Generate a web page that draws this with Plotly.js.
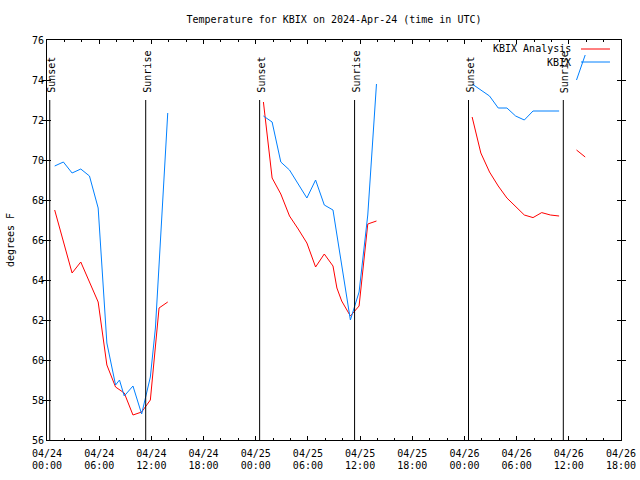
<!DOCTYPE html>
<html>
<head>
<meta charset="utf-8">
<script src="https://cdn.plot.ly/plotly-3.0.1.min.js"></script>
<style>html,body{margin:0;padding:0;background:#fff;}#chart{width:640px;height:480px;}</style>
</head>
<body>
<div id="chart"></div>
<script>
// KBIX Analysis (red) — hourly, null separates the daily segments
const analysisTimes = [
  '2024-04-24 00:53','2024-04-24 01:53','2024-04-24 02:53','2024-04-24 03:53','2024-04-24 04:53',
  '2024-04-24 05:53','2024-04-24 06:53','2024-04-24 07:53','2024-04-24 08:53','2024-04-24 09:53',
  '2024-04-24 10:53','2024-04-24 11:53','2024-04-24 12:53','2024-04-24 13:53',
  '2024-04-24 19:00',
  '2024-04-25 00:53','2024-04-25 01:53','2024-04-25 02:53','2024-04-25 03:53','2024-04-25 04:53',
  '2024-04-25 05:53','2024-04-25 06:53','2024-04-25 07:53','2024-04-25 08:53','2024-04-25 09:20',
  '2024-04-25 09:53','2024-04-25 10:53','2024-04-25 11:53','2024-04-25 12:53','2024-04-25 13:53',
  '2024-04-25 19:00',
  '2024-04-26 00:53','2024-04-26 01:53','2024-04-26 02:53','2024-04-26 03:53','2024-04-26 04:53',
  '2024-04-26 05:53','2024-04-26 06:53','2024-04-26 07:53','2024-04-26 08:53','2024-04-26 09:53',
  '2024-04-26 10:53','2024-04-26 11:53','2024-04-26 12:53','2024-04-26 13:53'
];
const analysisTemps = [
  67.5, 65.9, 64.35, 64.9, 63.9,
  62.9, 59.75, 58.65, 58.35, 57.25,
  57.4, 58.0, 62.6, 62.9,
  null,
  72.9, 69.1, 68.3, 67.2, 66.55,
  65.85, 64.65, 65.3, 64.7, 63.6,
  62.95, 62.2, 62.7, 66.8, 66.95,
  null,
  72.15, 70.35, 69.4, 68.7, 68.1,
  67.65, 67.25, 67.12, 67.37, 67.25,
  67.2, null, 70.5, 70.15
];

// KBIX observations (blue)
const obsTimes = [
  '2024-04-24 00:53','2024-04-24 01:53','2024-04-24 02:53','2024-04-24 03:53','2024-04-24 04:53',
  '2024-04-24 05:53','2024-04-24 06:53','2024-04-24 07:53','2024-04-24 08:20','2024-04-24 08:53',
  '2024-04-24 09:53','2024-04-24 10:53','2024-04-24 11:53','2024-04-24 12:28','2024-04-24 12:53',
  '2024-04-24 13:53',
  '2024-04-24 19:00',
  '2024-04-25 00:53','2024-04-25 01:53','2024-04-25 02:53','2024-04-25 03:53','2024-04-25 04:53',
  '2024-04-25 05:53','2024-04-25 06:53','2024-04-25 07:53','2024-04-25 08:53','2024-04-25 09:53',
  '2024-04-25 10:53','2024-04-25 11:53','2024-04-25 12:53','2024-04-25 13:53',
  '2024-04-25 19:00',
  '2024-04-26 00:53','2024-04-26 01:53','2024-04-26 02:53','2024-04-26 03:53','2024-04-26 04:53',
  '2024-04-26 05:53','2024-04-26 06:53','2024-04-26 07:53','2024-04-26 08:53','2024-04-26 09:53',
  '2024-04-26 10:53','2024-04-26 11:53','2024-04-26 12:53','2024-04-26 13:53'
];
const obsTemps = [
  69.7, 69.9, 69.35, 69.55, 69.2,
  67.6, 60.85, 58.75, 59.0, 58.2,
  58.7, 57.3, 59.15, 61.6, 64.75,
  72.35,
  null,
  72.2, 71.9, 69.9, 69.5, 68.8,
  68.1, 69.0, 67.75, 67.5, 64.8,
  62.0, 63.4, 67.25, 73.8,
  null,
  73.8, 73.5, 73.2, 72.6, 72.6,
  72.2, 72.0, 72.45, 72.45, 72.45,
  72.45, null, 74.0, 75.25
];

const sunsetTimes  = ['2024-04-24 00:19','2024-04-25 00:27','2024-04-26 00:28'];
const sunriseTimes = ['2024-04-24 11:21','2024-04-25 11:22','2024-04-26 11:22'];

const seriesNames = ['KBIX Analysis','KBIX'];
const seriesColors = ['#ff0000','#0080ff'];
const titleText = 'Temperature for KBIX on 2024-Apr-24 (time in UTC)';
const yTitle = 'degrees F';
const xRange = ['2024-04-24 00:00','2024-04-26 18:00'];
const yRange = [56, 76];
const markerTop = 73;

const FONT = 'DejaVu Sans Mono, Liberation Mono, monospace';
const HOUR = 3600 * 1000;

const traces = [
  {x: analysisTimes, y: analysisTemps, type: 'scatter', mode: 'lines', name: seriesNames[0],
   line: {color: seriesColors[0], width: 1}, connectgaps: false, showlegend: false},
  {x: obsTimes, y: obsTemps, type: 'scatter', mode: 'lines', name: seriesNames[1],
   line: {color: seriesColors[1], width: 1}, connectgaps: false, showlegend: false},
  // empty carrier so the second (time-of-day) label row is drawn
  {x: xRange, y: [null, null], xaxis: 'x2', type: 'scatter', mode: 'lines',
   showlegend: false, hoverinfo: 'skip', line: {width: 0}}
];

const shapes = [];
const annotations = [];
function addMarker(t, label) {
  shapes.push({type: 'line', xref: 'x', yref: 'y', x0: t, x1: t, y0: yRange[0], y1: markerTop,
               line: {color: 'black', width: 1}});
  annotations.push({xref: 'x', yref: 'y', x: t, y: markerTop, text: label, textangle: -90,
                    showarrow: false, xanchor: 'center', yanchor: 'bottom', yshift: 5, xshift: 1,
                    font: {family: FONT, size: 10, color: 'black'}});
}
sunsetTimes.forEach(t => addMarker(t, 'Sunset'));
sunriseTimes.forEach(t => addMarker(t, 'Sunrise'));

// gnuplot-style key: text left, sample line right
const keyY = [0.9775, 0.945];
seriesNames.forEach((n, i) => {
  annotations.push({xref: 'paper', yref: 'paper', x: 0.9164, y: keyY[i], text: n, showarrow: false,
                    xanchor: 'right', yanchor: 'middle', font: {family: FONT, size: 10, color: 'black'}});
  shapes.push({type: 'line', xref: 'paper', yref: 'paper', x0: 0.9303, x1: 0.9808, y0: keyY[i], y1: keyY[i],
               line: {color: seriesColors[i], width: 1}});
});

const tickFont = {family: FONT, size: 10, color: 'black'};
const layout = {
  width: 640, height: 480,
  margin: {l: 47, r: 19, t: 40, b: 40, pad: 0},
  paper_bgcolor: 'white', plot_bgcolor: 'white',
  font: {family: FONT, size: 10, color: 'black'},
  title: {text: titleText, font: {family: FONT, size: 10, color: 'black'},
          x: 0.5, xref: 'paper', y: 1 - 19/480, yref: 'container', yanchor: 'middle'},
  xaxis: {type: 'date', range: xRange, tick0: xRange[0], dtick: 6 * HOUR,
          tickformat: '%m/%d', ticks: 'inside', ticklen: 4, tickcolor: 'black',
          ticklabelstandoff: 4,
          minor: {dtick: 2 * HOUR, ticks: 'inside', ticklen: 2, tickcolor: 'black', showgrid: false},
          showline: true, linecolor: 'black', linewidth: 1, mirror: 'allticks',
          showgrid: false, zeroline: false, fixedrange: true, tickfont: tickFont},
  xaxis2: {type: 'date', range: xRange, tick0: xRange[0], dtick: 6 * HOUR, matches: 'x',
           overlaying: 'x', anchor: 'y', side: 'bottom',
           tickformat: '%H:%M', ticks: '', ticklabelstandoff: 18,
           showline: false, showgrid: false, zeroline: false, fixedrange: true, tickfont: tickFont},
  yaxis: {range: yRange, dtick: 2, ticks: 'inside', ticklen: 4, tickcolor: 'black',
          showline: true, linecolor: 'black', linewidth: 1, mirror: 'allticks',
          showgrid: false, zeroline: false, fixedrange: true, tickfont: tickFont,
          title: {text: yTitle, font: {family: FONT, size: 10, color: 'black'}, standoff: 15}},
  shapes: shapes,
  annotations: annotations,
  showlegend: false
};

Plotly.newPlot('chart', traces, layout, {staticPlot: true, displayModeBar: false});
</script>
</body>
</html>
